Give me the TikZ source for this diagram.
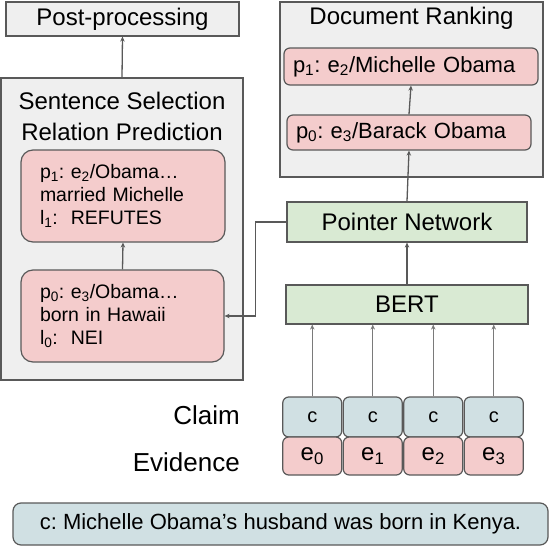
\documentclass[tikz,border=0pt]{standalone}
\usepackage{fontspec}
\setmainfont{Liberation Sans}
\usepackage{xcolor}
\usepackage{tikz}
\usetikzlibrary{arrows.meta, positioning}
\definecolor{cinza}{HTML}{EFEFEF}
\definecolor{borda}{HTML}{595959}
\definecolor{rosa}{HTML}{F4CCCC}
\definecolor{verde}{HTML}{D9EAD3}
\definecolor{ciano}{HTML}{D0E0E3}
\frenchspacing

\begin{document}
\begin{tikzpicture}[x=1pt, y=-1pt,
    panel/.style={draw=borda, fill=cinza, line width=1.2pt, inner sep=0pt, font=\fontsize{24}{28}\selectfont},
    title/.style={align=center, inner sep=0pt, font=\fontsize{24}{31}\selectfont},
    card/.style={draw=borda, fill=rosa, line width=1.2pt, rounded corners=12pt, align=left, inner xsep=19pt, inner ysep=0pt, font=\fontsize{19.5}{23}\selectfont},
    doccard/.style={draw=borda, fill=rosa, line width=1.2pt, rounded corners=6pt, align=left, inner xsep=9pt, inner ysep=0pt, font=\fontsize{22}{26}\selectfont},
    block/.style={draw=borda, fill=verde, line width=1.2pt, inner sep=0pt, font=\fontsize{24}{28}\selectfont},
    claimcell/.style={draw=borda, fill=ciano, line width=1.2pt, rounded corners=6pt, minimum width=59, minimum height=40, inner sep=0pt, font=\fontsize{20}{24}\selectfont},
    evcell/.style={draw=borda, fill=rosa, line width=1.2pt, rounded corners=6pt, minimum width=59, minimum height=38, inner sep=0pt, font=\fontsize{24}{28}\selectfont},
    lbl/.style={inner sep=0pt, font=\fontsize{26}{30}\selectfont},
    note/.style={draw=borda, fill=ciano, line width=1.2pt, rounded corners=8pt, inner sep=0pt, font=\fontsize{22}{26}\selectfont},
    conn/.style={draw=borda, line width=1.3pt, -{Stealth[length=5pt, width=4.5pt]}},
    thinconn/.style={draw=borda!80, line width=1pt, -{Stealth[length=5pt, width=4.5pt]}}
]
    \useasboundingbox (0,0) rectangle (550,546);

    % left column
    \node[panel, minimum width=233, minimum height=34] (post) at (122.5,19) {Post-processing};
    \node[panel, minimum width=242, minimum height=302] (sent) at (122,229) {};
    \node[title] (senttitle) at (122,116) {Sentence Selection\\Relation Prediction};

    \node[card, minimum height=92, text width=166] (s1) at (123,196) {p\textsubscript{1}: e\textsubscript{2}/Obama…\\married Michelle\\l\textsubscript{1}:~ REFUTES};
    \node[card, minimum height=92, text width=165] (s0) at (122.5,316) {p\textsubscript{0}: e\textsubscript{3}/Obama…\\born in Hawaii\\l\textsubscript{0}:~ NEI};

    % right column
    \node[panel, minimum width=263, minimum height=175] (rank) at (411.5,89.5) {};
    \node[title] (ranktitle) at (411.5,18) {Document Ranking};

    \node[doccard, minimum height=37, text width=236] (d1) at (411,66.5) {p\textsubscript{1}: e\textsubscript{2}/Michelle Obama};
    \node[doccard, minimum height=35, text width=226] (d0) at (409,132.5) {p\textsubscript{0}: e\textsubscript{3}/Barack Obama};

    \node[block, minimum width=240, minimum height=40] (pointer) at (407,222) {Pointer Network};
    \node[block, minimum width=242, minimum height=39] (bert) at (407,304.5) {BERT};

    % input cells
    \node[claimcell] (c0) at (312.25,417) {c};
    \node[claimcell] (c1) at (372.75,417) {c};
    \node[claimcell] (c2) at (433.25,417) {c};
    \node[claimcell] (c3) at (493.75,417) {c};

    \node[evcell] (e0) at (312.25,456) {e\textsubscript{0}};
    \node[evcell] (e1) at (372.75,456) {e\textsubscript{1}};
    \node[evcell] (e2) at (433.25,456) {e\textsubscript{2}};
    \node[evcell] (e3) at (493.75,456) {e\textsubscript{3}};

    \node[lbl, anchor=east] (claimlbl) at (240,415) {Claim};
    \node[lbl, anchor=east] (evlbl) at (240,462) {Evidence};

    \node[note, minimum width=535, minimum height=42] (claimtext) at (280.5,524) {c: Michelle Obama's husband was born in Kenya.};

    \draw[conn] (sent.north) -- (post.south);
    \draw[conn] (s0.north) -- (s1.south);
    \draw[conn] (pointer.west) -- ++(-31,0) |- (s0.east);
    \draw[conn] (bert.north) -- (pointer.south);
    \draw[conn] (pointer.north) -- (d0.south);
    \draw[conn] (d0.north) -- (d1.south);

    \draw[thinconn] (c0.north) -- (c0.north |- bert.south);
    \draw[thinconn] (c1.north) -- (c1.north |- bert.south);
    \draw[thinconn] (c2.north) -- (c2.north |- bert.south);
    \draw[thinconn] (c3.north) -- (c3.north |- bert.south);
\end{tikzpicture}
\end{document}
